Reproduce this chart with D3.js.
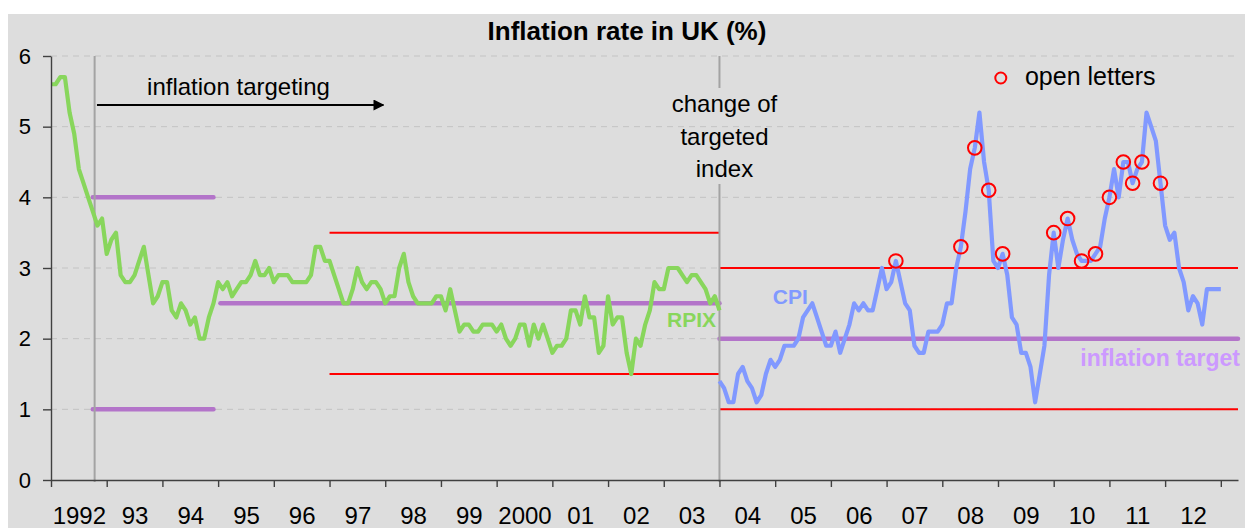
<!DOCTYPE html>
<html>
<head>
<meta charset="utf-8">
<script src="https://cdn.jsdelivr.net/npm/d3@7/dist/d3.min.js"></script>
<style>
  body { margin: 0; background: #fff; }
  svg { display: block; }
  text { font-family: "Liberation Sans", Arial, sans-serif; }
</style>
</head>
<body>
<div id="chart"></div>
<script>
// months are counted from Jan 1992 (= 0)
const yearLabels = ["1992","93","94","95","96","97","98","99","2000","01","02","03",
                    "04","05","06","07","08","09","10","11","12"];
const yTicks = [0, 1, 2, 3, 4, 5, 6];

// RPIX, Jan 1992 - Jan 2004
const rpix = [
  5.6,5.6,5.7,5.7,5.2,4.9,4.4,4.2,4.0,3.8,3.6,3.7,
  3.2,3.4,3.5,2.9,2.8,2.8,2.9,3.1,3.3,2.9,2.5,2.6,
  2.8,2.8,2.4,2.3,2.5,2.4,2.2,2.3,2.0,2.0,2.3,2.5,
  2.8,2.7,2.8,2.6,2.7,2.8,2.8,2.9,3.1,2.9,2.9,3.0,
  2.8,2.9,2.9,2.9,2.8,2.8,2.8,2.8,2.9,3.3,3.3,3.1,
  3.1,2.9,2.7,2.5,2.5,2.7,3.0,2.8,2.7,2.8,2.8,2.7,
  2.5,2.6,2.6,3.0,3.2,2.8,2.6,2.5,2.5,2.5,2.5,2.6,
  2.6,2.4,2.7,2.4,2.1,2.2,2.2,2.1,2.1,2.2,2.2,2.2,
  2.1,2.2,2.0,1.9,2.0,2.2,2.2,1.9,2.2,2.0,2.2,2.0,
  1.8,1.9,1.9,2.0,2.4,2.4,2.2,2.6,2.3,2.3,1.8,1.9,
  2.6,2.2,2.3,2.3,1.8,1.5,2.0,1.9,2.2,2.4,2.8,2.7,
  2.7,3.0,3.0,3.0,2.9,2.8,2.9,2.9,2.8,2.7,2.5,2.6,
  2.4
];
const rpixStart = 0;

// CPI, Jan 2004 - Jan 2013
const cpi = [
  1.4,1.3,1.1,1.1,1.5,1.6,1.4,1.3,1.1,1.2,1.5,1.7,
  1.6,1.7,1.9,1.9,1.9,2.0,2.3,2.4,2.5,2.3,2.1,1.9,
  1.9,2.1,1.8,2.0,2.2,2.5,2.4,2.5,2.4,2.4,2.7,3.0,
  2.7,2.8,3.1,2.8,2.5,2.4,1.9,1.8,1.8,2.1,2.1,2.1,
  2.2,2.5,2.5,3.0,3.3,3.8,4.4,4.7,5.2,4.5,4.1,3.1,
  3.0,3.2,2.9,2.3,2.2,1.8,1.8,1.6,1.1,1.5,1.9,2.9,
  3.5,3.0,3.4,3.7,3.4,3.2,3.1,3.1,3.1,3.2,3.3,3.7,
  4.0,4.4,4.0,4.5,4.5,4.2,4.4,4.5,5.2,5.0,4.8,4.2,
  3.6,3.4,3.5,3.0,2.8,2.4,2.6,2.5,2.2,2.7,2.7,2.7,
  2.7
];
const cpiStart = 144;

// months in which an open letter was written (CPI values circled)
const letterMonths = [182,196,199,202,205,216,219,222,225,228,231,233,235,239];

// inflation target lines [fromMonth, toMonth, value]
const targetLines = [[9, 35, 4], [9, 35, 1], [36.5, 144, 2.5], [144, 255.7, 2]];
// tolerance band lines [fromMonth, toMonth, value]
const bandLines = [[60, 144, 3.5], [60, 144, 1.5], [144, 255.7, 3], [144, 255.7, 1]];

const targetingStart = 9.4;
const indexChange = 144;
const lastMonth = 255.7;

const W = 1245, H = 531;
const svg = d3.select("#chart").append("svg").attr("width", W).attr("height", H);

svg.append("rect").attr("x", 8).attr("y", 14).attr("width", W - 8).attr("height", 514)
  .attr("fill", "#dddddd");

const x = d3.scaleLinear().domain([0, lastMonth]).range([51, 1238]);
const y = d3.scaleLinear().domain([0, 6]).range([480, 56]);

// title
svg.append("text").attr("x", 627).attr("y", 40).attr("text-anchor", "middle")
  .attr("font-weight", "bold").attr("font-size", 26).text("Inflation rate in UK (%)");

// dashed grid
svg.append("g").selectAll("line").data(yTicks.filter(d => d > 0)).enter().append("line")
  .attr("x1", x(0)).attr("x2", x(lastMonth))
  .attr("y1", d => y(d)).attr("y2", d => y(d))
  .attr("stroke", "#c3c3c3").attr("stroke-width", 1).attr("stroke-dasharray", "6,5");

// red tolerance bands
svg.append("g").selectAll("line").data(bandLines).enter().append("line")
  .attr("x1", d => x(d[0])).attr("x2", d => x(d[1]))
  .attr("y1", d => y(d[2])).attr("y2", d => y(d[2]))
  .attr("stroke", "#ff0000").attr("stroke-width", 2);

// purple targets
svg.append("g").selectAll("line").data(targetLines).enter().append("line")
  .attr("x1", d => x(d[0])).attr("x2", d => x(d[1]))
  .attr("y1", d => y(d[2])).attr("y2", d => y(d[2]))
  .attr("stroke", "#b374c9").attr("stroke-width", 4.5).attr("stroke-linecap", "round");

// vertical marker: start of inflation targeting
svg.append("line").attr("x1", x(targetingStart)).attr("x2", x(targetingStart))
  .attr("y1", y(6)).attr("y2", y(0) + 2)
  .attr("stroke", "#a3a3a3").attr("stroke-width", 2);

// "change of targeted index" text and broken vertical line
const ct = svg.append("text").attr("x", x(indexChange) + 5).attr("y", 112)
  .attr("text-anchor", "middle").attr("font-size", 24).attr("fill", "#000");
["change of", "targeted", "index"].forEach((s, i) => {
  ct.append("tspan").attr("x", x(indexChange) + 5).attr("dy", i ? 32.5 : 0).text(s);
});
const cb = ct.node().getBBox();
svg.append("line").attr("x1", x(indexChange)).attr("x2", x(indexChange))
  .attr("y1", y(6)).attr("y2", cb.y - 2).attr("stroke", "#a3a3a3").attr("stroke-width", 2);
svg.append("line").attr("x1", x(indexChange)).attr("x2", x(indexChange))
  .attr("y1", cb.y + cb.height + 2).attr("y2", y(0) + 2)
  .attr("stroke", "#a3a3a3").attr("stroke-width", 2);

// series lines
const line = start => d3.line().x((d, i) => x(start + i)).y(d => y(d));

svg.append("path").datum(rpix).attr("d", line(rpixStart))
  .attr("fill", "none").attr("stroke", "#88d65c").attr("stroke-width", 4.2)
  .attr("stroke-linejoin", "round");

svg.append("path").datum(cpi).attr("d", line(cpiStart))
  .attr("fill", "none").attr("stroke", "#8199ff").attr("stroke-width", 4.2)
  .attr("stroke-linejoin", "round");

// open letters
svg.append("g").selectAll("circle").data(letterMonths).enter().append("circle")
  .attr("cx", d => x(d)).attr("cy", d => y(cpi[d - cpiStart]))
  .attr("r", 6.8).attr("fill", "none").attr("stroke", "#ff0000").attr("stroke-width", 2);

// axes
const yAxis = d3.axisLeft(y).tickValues(yTicks).tickSize(8).tickSizeOuter(0).tickPadding(12)
  .tickFormat(d3.format("d"));
const gy = svg.append("g").attr("transform", `translate(${x(0)},0)`).call(yAxis);
gy.selectAll("text").attr("font-size", 22).attr("fill", "#000")
  .style("font-family", "'Liberation Sans', Arial, sans-serif");

const xTicks = d3.range(0, 253, 12);
const xAxis = d3.axisBottom(x).tickValues(xTicks).tickSize(7).tickSizeOuter(0).tickFormat("");
const gx = svg.append("g").attr("transform", `translate(0,${y(0)})`).call(xAxis);

const xLab = d3.axisBottom(x).tickValues(xTicks.map(d => d + 6)).tickSize(0).tickPadding(27)
  .tickFormat((d, i) => yearLabels[i]);
const gl = svg.append("g").attr("transform", `translate(0,${y(0)})`).call(xLab);
gl.select(".domain").remove();
gl.selectAll("text").attr("font-size", 24).attr("fill", "#000")
  .style("font-family", "'Liberation Sans', Arial, sans-serif");

[gy, gx].forEach(g => g.selectAll("path, line").attr("stroke", "#404040").attr("stroke-width", 1.4));

// inflation targeting arrow
svg.append("defs").append("marker").attr("id", "arrow")
  .attr("viewBox", "0 0 10 10").attr("refX", 9).attr("refY", 5)
  .attr("markerWidth", 5.5).attr("markerHeight", 5.5).attr("orient", "auto")
  .append("path").attr("d", "M0,0 L10,5 L0,10 Z").attr("fill", "#000");

svg.append("text").attr("x", x(20.7)).attr("y", 95).attr("font-size", 24)
  .text("inflation targeting");
svg.append("line").attr("x1", x(targetingStart + 0.5)).attr("x2", x(71.6))
  .attr("y1", 105).attr("y2", 105).attr("stroke", "#000").attr("stroke-width", 2)
  .attr("marker-end", "url(#arrow)");

// series labels
svg.append("text").attr("x", x(132.7)).attr("y", 327).attr("font-size", 21)
  .attr("font-weight", "bold").attr("fill", "#88d65c").text("RPIX");
svg.append("text").attr("x", x(155.5)).attr("y", 304).attr("font-size", 21)
  .attr("font-weight", "bold").attr("fill", "#8199ff").text("CPI");
svg.append("text").attr("x", x(lastMonth) + 2).attr("y", 366).attr("text-anchor", "end")
  .attr("font-size", 23).attr("font-weight", "bold").attr("fill", "#cc99ff")
  .text("inflation target");

// legend
svg.append("circle").attr("cx", x(204.6)).attr("cy", 78).attr("r", 5.5)
  .attr("fill", "none").attr("stroke", "#ff0000").attr("stroke-width", 2);
svg.append("text").attr("x", x(209.8)).attr("y", 85).attr("font-size", 25).text("open letters");
</script>
</body>
</html>
